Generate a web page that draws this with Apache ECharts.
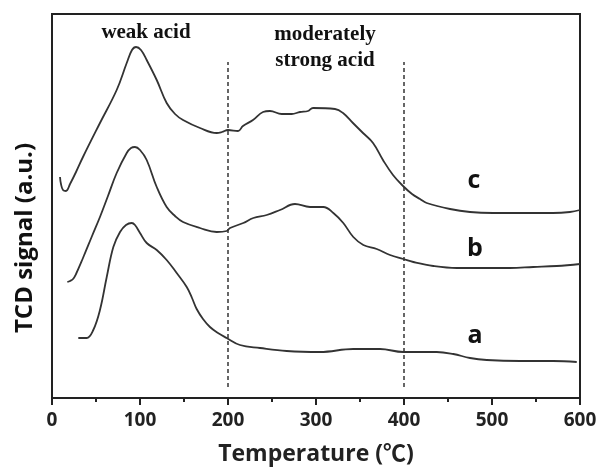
<!DOCTYPE html>
<html>
<head>
<meta charset="utf-8">
<script src="https://cdn.jsdelivr.net/npm/echarts@6/dist/echarts.min.js"></script>
<style>
html,body{margin:0;padding:0;background:#fff;}
#chart{width:601px;height:471px;}
</style>
</head>
<body>
<div id="chart"></div>
<script>
// Temperature (°C) vs TCD signal (arbitrary units)
const curveC = [[9.1,221],[10.2,214],[12.5,208],[15.9,207],[20.5,214],[27.3,226],[35.2,241],[54.5,275],[73.5,308],[84.9,335],[90.9,348],[95.5,351],[101.1,348],[107.6,338],[119,318],[130.3,295],[139.8,284],[148.9,278],[168.2,270],[187.2,265],[193.2,266],[200,268],[211.4,267],[217,272],[228.4,278],[239.8,286],[247.7,287],[261,284],[272.4,284],[281.8,286],[290.9,287],[296.6,290],[321.6,289],[330.7,285],[342,275],[353.4,265],[364.8,255],[376.1,238],[387.5,223],[398.9,212],[409.1,204],[418.2,199],[425.8,195],[452.3,189],[475,186],[501.1,185],[528.1,185],[569.3,185],[588.6,186],[600,188]];
const curveB = [[17.4,116],[20.5,117],[23.9,119],[27.3,124],[35.2,140],[45.5,162],[54.5,181],[63.6,202],[73.5,225],[84.9,245],[89.8,250],[94.3,251],[100,248],[107.6,238],[119,211],[130.3,191],[139.8,182],[148.9,176],[168.2,170],[187.2,166],[198.5,167],[202.3,170],[217.4,175],[228.8,180],[244,183],[259.1,188],[276.1,194],[293.2,191],[308.3,191],[319.7,185],[331,175],[342.4,161],[353.8,153],[369,149],[384.1,143],[399.2,139],[410.6,136],[433.3,132],[459.9,130],[490.1,130],[520.5,130],[546.9,131],[573.5,132],[600,134]];
const curveA = [[29.9,60],[39.4,60],[46.9,68],[54.5,88],[62.2,121],[69.7,151],[77.3,166],[84.1,173],[90.6,175],[94.3,173],[100,165],[107.6,155],[119,148],[130.3,138],[141.7,125],[153.1,111],[159.1,100],[164.4,89],[171.6,79],[179.5,71],[188.6,65],[198.5,60],[213.6,53],[236.4,50],[266.7,47],[304.5,46],[342.4,49],[372.7,49],[399.2,46],[437.2,46],[456,44],[475,40],[494,38],[531.8,37],[569.7,37],[596.3,36]];
const dividers = [200, 400];
const dividerSpan = [11, 336];
const xTicks = [0, 100, 200, 300, 400, 500, 600];
const curveNames = ['c', 'b', 'a'];
const regionLabels = ['weak acid', 'moderately', 'strong acid'];
const xTitle = 'Temperature (℃)';
const yTitle = 'TCD signal (a.u.)';

const chart = echarts.init(document.getElementById('chart'));
const lineColor = '#333';
const sans = '"Open Sans", "Noto Sans CJK KR", sans-serif';
const serif = 'bold 21px "Liberation Serif", serif';
const lab = 'bold 25px ' + sans;

const curveSeries = [curveC, curveB, curveA].map((d, i) => ({
  type: 'line', name: curveNames[i], data: d, showSymbol: false, smooth: 0.4,
  lineStyle: {color: lineColor, width: 1.8}, silent: true, z: 3
}));
const dividerSeries = dividers.map(v => ({
  type: 'line', data: dividerSpan.map(y => [v, y]), showSymbol: false,
  lineStyle: {color: '#333', width: 1.5, type: [4, 3]}, silent: true, z: 2
}));

function txt(x, y, text, font, rot) {
  return {type: 'text', x: x, y: y, rotation: rot || 0,
    style: {text: text, font: font, fill: '#111', align: 'center', verticalAlign: 'middle'}};
}

chart.setOption({
  animation: false,
  grid: {left: 52, right: 21, top: 14, bottom: 73, show: true, borderColor: '#222', borderWidth: 2},
  xAxis: {
    type: 'value', min: xTicks[0], max: xTicks[xTicks.length - 1], interval: 100,
    axisLine: {lineStyle: {color: '#222', width: 2}},
    axisTick: {show: true, length: 7, lineStyle: {color: '#222', width: 2}},
    minorTick: {show: true, splitNumber: 2, length: 4, lineStyle: {color: '#222', width: 2}},
    splitLine: {show: false},
    axisLabel: {fontSize: 19, fontWeight: 'bold', color: '#222', fontFamily: sans, margin: 13},
    name: xTitle, nameLocation: 'middle', nameGap: 45,
    nameTextStyle: {fontSize: 23, fontWeight: 'bold', color: '#222', fontFamily: sans}
  },
  yAxis: {
    type: 'value', min: 0, max: 384, show: false
  },
  graphic: [
    txt(146, 33, regionLabels[0], serif),
    txt(325, 35, regionLabels[1], serif),
    txt(325, 61, regionLabels[2], serif),
    txt(474, 181, curveNames[0], lab),
    txt(475, 249, curveNames[1], lab),
    txt(475, 336, curveNames[2], lab),
    txt(25, 238, yTitle, 'bold 24px ' + sans, Math.PI / 2)
  ],
  series: [...dividerSeries, ...curveSeries]
});
</script>
</body>
</html>
